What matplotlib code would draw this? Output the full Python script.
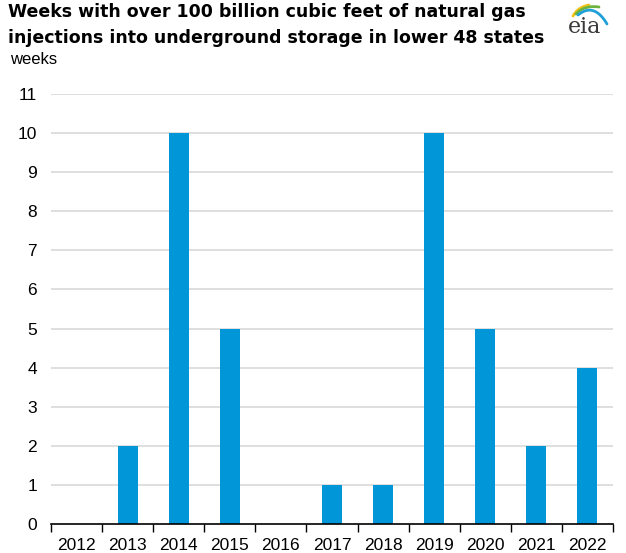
import matplotlib
matplotlib.use('Agg')
import matplotlib.pyplot as plt
import numpy as np

plt.rcParams['font.family'] = ['Liberation Sans', 'DejaVu Sans']

# data
years = ['2012', '2013', '2014', '2015', '2016', '2017', '2018', '2019', '2020', '2021', '2022']
weeks = [0, 2, 10, 5, 0, 1, 1, 10, 5, 2, 4]
y_ticks = list(range(0, 12))

bar_color = '#0096D7'

fig = plt.figure(figsize=(6.26, 5.53), dpi=100)
ax = fig.add_axes([51 / 626, 1 - 524 / 553, (613 - 51) / 626, (524 - 94) / 553])

x = np.arange(len(years))
ax.bar(x, weeks, width=0.39, color=bar_color, zorder=3)

ax.set_xlim(-0.5, len(years) - 0.5)
ax.set_ylim(0, 11)
ax.set_yticks(y_ticks)
ax.set_yticklabels([str(t) for t in y_ticks], fontsize=12.5)
for t in y_ticks[1:]:
    ax.axhline(t, color='#d9d9d9', lw=1.2, zorder=1)

# category labels centred, tick marks on boundaries
ax.set_xticks(x)
ax.set_xticklabels(years, fontsize=12.5)
ax.tick_params(axis='x', length=0, pad=10)
ax.set_xticks(np.arange(-0.5, len(years)), minor=True)
ax.tick_params(axis='x', which='minor', length=6, width=1, direction='out', color='black')
ax.tick_params(axis='y', length=0, pad=10)

for s in ['top', 'right', 'left']:
    ax.spines[s].set_visible(False)
ax.spines['bottom'].set_linewidth(1.2)
ax.spines['bottom'].set_zorder(4)

# title and unit
fig.text(8 / 626, 1 - 12 / 553, 'Weeks with over 100 billion cubic feet of natural gas',
         fontsize=12.5, fontweight='bold', family='DejaVu Sans', va='center', ha='left')
fig.text(8 / 626, 1 - 38 / 553, 'injections into underground storage in lower 48 states',
         fontsize=12.5, fontweight='bold', family='DejaVu Sans', va='center', ha='left')
fig.text(10 / 626, 1 - 60 / 553, 'weeks', fontsize=12, va='center', ha='left')

# eia logo, drawn in pixel coordinates of its own small axes
lax = fig.add_axes([560 / 626, 1 - 45 / 553, 50 / 626, 45 / 553])
lax.set_xlim(560, 610)
lax.set_ylim(45, 0)
lax.axis('off')
t = np.linspace(0, 1, 40)[:, None]
for p0, p1, p2, c in [((573, 16), (578, 7), (589, 5), '#f2c318'),
                      ((576, 14), (584, 5), (599, 7), '#6db33f'),
                      ((578, 15), (594, 2), (607, 24), '#1fa0d8')]:
    pts = (1 - t) ** 2 * np.array(p0) + 2 * (1 - t) * t * np.array(p1) + t ** 2 * np.array(p2)
    lax.plot(pts[:, 0], pts[:, 1], color=c, lw=2, solid_capstyle='round')
lax.text(585, 27, 'eia', fontsize=16, family='DejaVu Serif', color='#3a3a3a',
         ha='center', va='center')

fig.savefig('out.png', dpi=100, facecolor='white')
